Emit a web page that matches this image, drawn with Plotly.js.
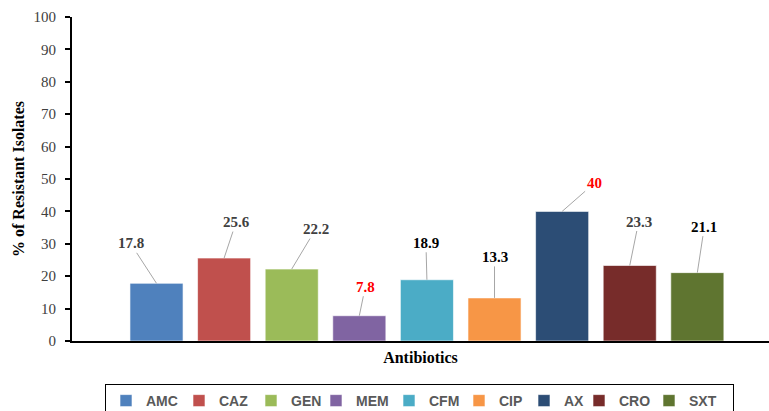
<!DOCTYPE html>
<html>
<head>
<meta charset="utf-8">
<script src="https://cdn.plot.ly/plotly-3.0.1.min.js"></script>
<style>
  html, body { margin: 0; padding: 0; background: #fff; }
  #chart { width: 769px; height: 411px; }
</style>
</head>
<body>
<div id="chart"></div>
<script>
// Antibiotic resistance, % of resistant isolates
const antibiotics = ['AMC', 'CAZ', 'GEN', 'MEM', 'CFM', 'CIP', 'AX', 'CRO', 'SXT'];
const resistantPct = [17.8, 25.6, 22.2, 7.8, 18.9, 13.3, 40, 23.3, 21.1];
const barColors = ['#4f81bd', '#c0504d', '#9bbb59', '#8064a2', '#4bacc6',
                   '#f79646', '#2c4d75', '#772c2a', '#5f7530'];

// value label styling and leader-line offsets (pixels from bar top)
const labelColors = ['#404040', '#404040', '#404040', '#ff0000', '#000000',
                     '#000000', '#ff0000', '#404040', '#000000'];
const labelDx = [-26, 12, 24, 6, -1, 0, 32, 9, 7];
const labelDy = [-40, -36, -40, -29, -37, -41, -28, -44, -46];

// legend entry widths (px) so the horizontal legend keeps a tight spacing
const legendEntryWidths = [28, 27, 20, 28, 25, 20, 10, 25, 39];

const serif = 'Liberation Serif, Times New Roman, serif';

const traces = antibiotics.map((name, i) => ({
  type: 'bar',
  name: name,
  x: [name],
  y: [resistantPct[i]],
  width: 0.785,
  legendwidth: legendEntryWidths[i],
  marker: { color: barColors[i], line: { color: 'rgba(255,255,255,0.6)', width: 1 } },
  hoverinfo: 'x+y'
}));

const annotations = antibiotics.map((name, i) => ({
  x: name,
  y: resistantPct[i],
  xref: 'x',
  yref: 'y',
  text: '<b>' + resistantPct[i] + '</b>',
  showarrow: true,
  arrowhead: 0,
  arrowwidth: 1,
  arrowcolor: '#a6a6a6',
  standoff: 0,
  ax: labelDx[i],
  ay: labelDy[i],
  font: { family: serif, size: 15, color: labelColors[i] }
}));

const layout = {
  width: 769,
  height: 411,
  margin: { l: 72, r: 0, t: 17, b: 70 },
  paper_bgcolor: '#ffffff',
  plot_bgcolor: '#ffffff',
  barmode: 'overlay',
  showlegend: true,
  font: { family: serif, size: 15, color: '#404040' },
  xaxis: {
    type: 'category',
    categoryarray: antibiotics,
    range: [-1.25, 9.06],
    showline: true,
    linecolor: '#000000',
    linewidth: 2,
    showgrid: false,
    zeroline: false,
    ticks: '',
    showticklabels: false,
    title: {
      text: '<b>Antibiotics</b>',
      standoff: 10,
      font: { family: serif, size: 16, color: '#000000' }
    }
  },
  yaxis: {
    range: [0, 100],
    dtick: 10,
    showline: true,
    linecolor: '#000000',
    linewidth: 2,
    ticks: 'outside',
    ticklen: 5,
    tickwidth: 2,
    tickcolor: '#000000',
    ticklabelstandoff: 6,
    showgrid: false,
    zeroline: false,
    tickfont: { family: serif, size: 15, color: '#404040' },
    title: {
      text: '<b>% of Resistant Isolates</b>',
      standoff: 5,
      font: { family: serif, size: 16, color: '#000000' }
    }
  },
  legend: {
    orientation: 'h',
    xref: 'container',
    yref: 'container',
    x: 105 / 769,
    xanchor: 'left',
    y: 1 - 384 / 411,
    yanchor: 'top',
    bgcolor: '#ffffff',
    bordercolor: '#000000',
    borderwidth: 1,
    font: { family: 'Liberation Sans, Arial, sans-serif', size: 14, color: '#595959', weight: 'bold' },
    itemclick: false,
    itemdoubleclick: false
  },
  annotations: annotations
};

Plotly.newPlot('chart', traces, layout, { displayModeBar: false, staticPlot: true });
</script>
</body>
</html>
